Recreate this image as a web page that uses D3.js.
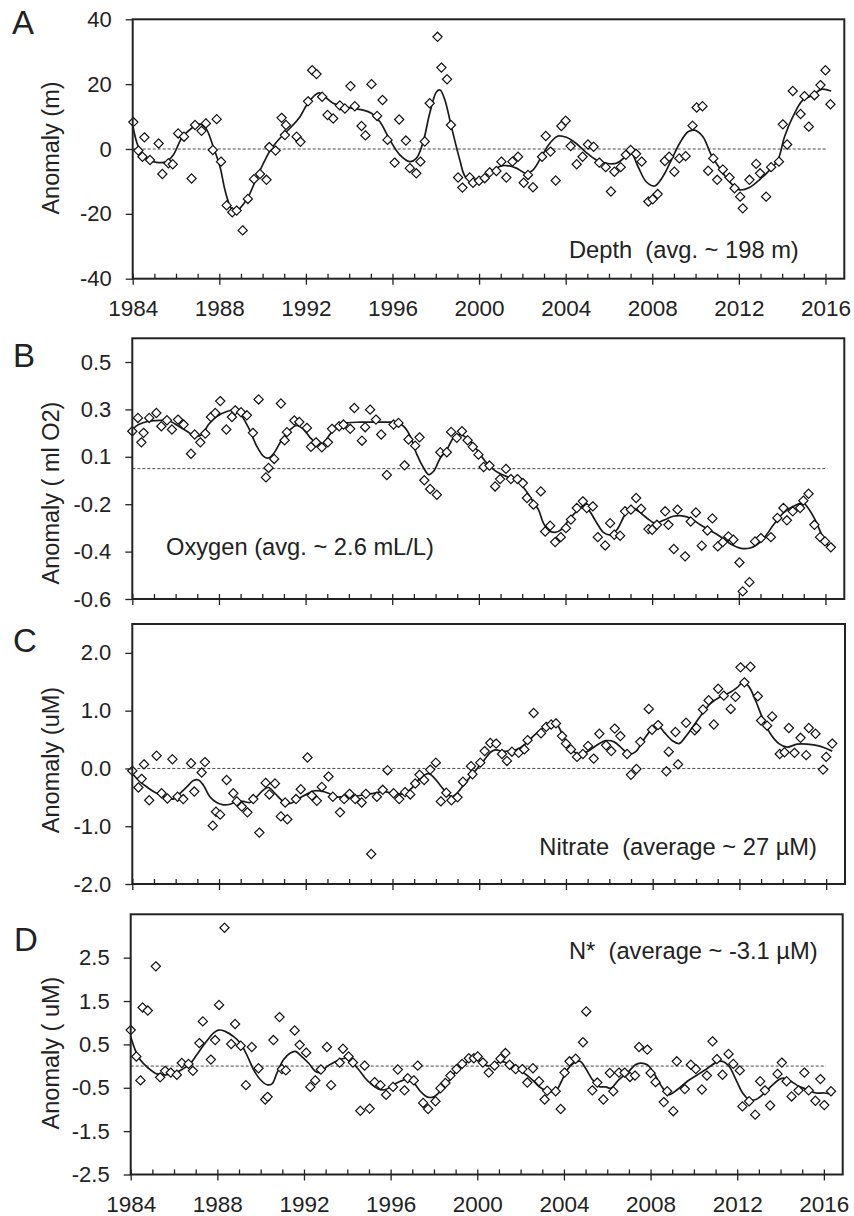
<!DOCTYPE html>
<html><head><meta charset="utf-8">
<script src="https://cdn.jsdelivr.net/npm/d3@7"></script>
<style>
body{margin:0;background:#fff}
svg text{font-family:"Liberation Sans",Arial,sans-serif;fill:#222}
</style>
</head><body>
<svg id="chart" width="854" height="1216"></svg>
<script>
// ---------------- DATA ----------------
const yearMajorTicks = [1984,1988,1992,1996,2000,2004,2008,2012,2016];
const yearMinorTicks = d3.range(1984, 2017); // one tick per year

const depthTicks = [-40,-20,0,20,40];
const depthTickLabels = ["-40","-20","0","20","40"];
const oxygenTicks = [-0.55,-0.35,-0.15,0.05,0.25,0.45];
const oxygenTickLabels = ["-0.6","-0.4","-0.2","0.1","0.3","0.5"];
const nitrateTicks = [-2,-1,0,1,2];
const nitrateTickLabels = ["-2.0","-1.0","0.0","1.0","2.0"];
const nstarTicks = [-2.5,-1.5,-0.5,0.5,1.5,2.5];
const nstarTickLabels = ["-2.5","-1.5","-0.5","0.5","1.5","2.5"];

const panelLetters = ["A","B","C","D"];
const axisTitles = ["Anomaly (m)","Anomaly ( ml O2)","Anomaly (uM)","Anomaly ( uM)"];
const panelNotes = ["Depth  (avg. ~ 198 m)","Oxygen (avg. ~ 2.6 mL/L)","Nitrate  (average ~ 27 \u00b5M)","N*  (average ~ -3.1 \u00b5M)"];

const depthPoints = [[1984.03,8.3],[1984.26,-0.5],[1984.45,-2.4],[1984.54,3.6],[1984.8,-3.4],[1985.2,1.7],[1985.37,-7.7],[1985.65,-4.4],[1985.85,-4.7],[1986.1,4.8],[1986.37,3.8],[1986.72,-9.1],[1986.88,7.4],[1987.18,5.6],[1987.38,7.9],[1987.7,-0.3],[1987.88,9.2],[1988.08,-3.9],[1988.34,-17.4],[1988.6,-19.5],[1988.8,-19.0],[1989.08,-25.1],[1989.32,-15.4],[1989.6,-9.3],[1989.88,-7.7],[1990.18,-9.5],[1990.31,0.6],[1990.6,-0.5],[1990.88,9.6],[1991.03,4.3],[1991.08,7.4],[1991.57,3.8],[1991.75,2.2],[1992.1,14.7],[1992.29,24.3],[1992.49,23.1],[1992.75,16.1],[1993.0,10.5],[1993.26,9.4],[1993.57,13.4],[1993.8,12.5],[1994.06,19.4],[1994.26,13.2],[1994.57,7.1],[1994.75,4.2],[1995.03,20.0],[1995.29,10.2],[1995.54,15.1],[1995.77,2.8],[1996.1,-4.2],[1996.31,9.1],[1996.62,2.6],[1996.8,-5.9],[1997.1,-7.5],[1997.29,-3.9],[1997.49,2.3],[1997.72,14.1],[1998.08,34.6],[1998.26,25.1],[1998.52,21.5],[1998.7,7.4],[1999.03,-8.8],[1999.23,-11.9],[1999.57,-8.8],[1999.72,-10.4],[2000.0,-9.8],[2000.26,-9.0],[2000.49,-7.2],[2000.8,-6.8],[2001.03,-3.9],[2001.26,-8.8],[2001.54,-3.9],[2001.8,-2.4],[2002.06,-10.4],[2002.26,-8.0],[2002.49,-11.8],[2002.91,-2.4],[2003.08,4.0],[2003.3,-0.8],[2003.54,-9.7],[2003.8,7.1],[2004.0,8.7],[2004.23,0.9],[2004.51,-4.7],[2004.78,-2.4],[2005.03,1.4],[2005.29,0.7],[2005.55,-4.2],[2005.85,-5.6],[2006.09,-13.1],[2006.25,-7.0],[2006.54,-5.6],[2006.78,-1.8],[2007.0,-0.3],[2007.25,-1.5],[2007.51,-3.9],[2007.82,-16.2],[2008.02,-15.5],[2008.25,-13.9],[2008.58,-3.7],[2008.78,-2.4],[2009.02,-7.0],[2009.25,-2.9],[2009.54,-2.2],[2009.86,7.2],[2010.05,12.8],[2010.32,13.2],[2010.58,-6.7],[2010.82,-2.9],[2011.0,-9.5],[2011.26,-6.3],[2011.57,-8.8],[2011.8,-12.1],[2012.06,-14.7],[2012.18,-18.3],[2012.49,-9.5],[2012.8,-4.6],[2012.98,-7.5],[2013.26,-14.7],[2013.49,-5.6],[2013.85,-3.9],[2014.03,7.6],[2014.23,1.4],[2014.49,17.9],[2014.85,10.8],[2015.03,16.3],[2015.23,6.9],[2015.49,16.6],[2015.77,19.7],[2016.0,24.3],[2016.23,13.8]];

const depthSmooth = [[1984.0,7.4],[1984.26,0.7],[1984.65,-3.2],[1985.1,-4.1],[1985.57,-3.9],[1985.88,-1.8],[1986.26,3.3],[1986.72,6.4],[1987.1,7.7],[1987.38,6.4],[1987.72,0.7],[1988.03,-5.4],[1988.26,-12.6],[1988.5,-17.7],[1988.69,-19.5],[1988.95,-18.3],[1989.34,-14.7],[1989.72,-9.0],[1990.11,-3.4],[1990.42,0.2],[1990.8,3.3],[1991.26,6.4],[1991.72,9.9],[1992.03,13.5],[1992.42,16.6],[1992.62,17.3],[1992.88,16.1],[1993.26,14.1],[1993.72,13.2],[1994.18,12.5],[1994.65,12.0],[1995.03,11.0],[1995.42,8.4],[1995.88,2.8],[1996.34,-1.8],[1996.8,-3.9],[1997.1,-2.9],[1997.42,2.3],[1997.72,11.0],[1998.03,17.6],[1998.2,18.2],[1998.42,15.1],[1998.72,6.9],[1999.11,-3.4],[1999.34,-8.3],[1999.57,-9.5],[2000.03,-9.0],[2000.49,-7.5],[2000.95,-5.4],[2001.26,-5.1],[2001.72,-5.9],[2002.18,-7.5],[2002.49,-6.5],[2002.88,-2.4],[2003.26,1.7],[2003.65,4.0],[2004.03,3.6],[2004.49,1.7],[2004.95,-1.1],[2005.42,-3.4],[2005.88,-4.4],[2006.34,-4.4],[2006.8,-2.2],[2007.03,-1.3],[2007.34,-5.4],[2007.72,-10.1],[2008.11,-11.4],[2008.49,-8.5],[2008.88,-3.4],[2009.26,1.7],[2009.65,5.3],[2009.95,5.8],[2010.34,3.8],[2010.72,-1.8],[2011.11,-5.9],[2011.57,-10.1],[2012.03,-12.6],[2012.49,-11.9],[2012.95,-9.5],[2013.42,-6.5],[2013.8,-3.4],[2014.11,3.8],[2014.49,9.9],[2014.95,15.1],[2015.42,16.6],[2015.8,18.4],[2016.26,17.9]];

const oxygenPoints = [[1984.0,0.158],[1984.26,0.214],[1984.42,0.111],[1984.52,0.151],[1984.78,0.214],[1985.11,0.235],[1985.34,0.179],[1985.6,0.204],[1985.83,0.165],[1986.11,0.207],[1986.37,0.186],[1986.71,0.063],[1986.88,0.144],[1987.14,0.111],[1987.37,0.148],[1987.63,0.218],[1987.83,0.235],[1988.06,0.285],[1988.34,0.165],[1988.6,0.218],[1988.75,0.246],[1989.02,0.238],[1989.29,0.225],[1989.57,0.151],[1989.83,0.292],[1990.17,-0.037],[1990.29,0.003],[1990.55,0.041],[1990.86,0.275],[1991.03,0.120],[1991.14,0.154],[1991.48,0.203],[1991.71,0.197],[1992.06,0.172],[1992.25,0.092],[1992.48,0.111],[1992.75,0.090],[1993.03,0.111],[1993.22,0.168],[1993.55,0.179],[1993.75,0.186],[1994.06,0.168],[1994.25,0.256],[1994.6,0.118],[1994.75,0.175],[1994.98,0.249],[1995.25,0.207],[1995.49,0.144],[1995.75,-0.027],[1996.06,0.186],[1996.29,0.193],[1996.57,0.014],[1996.75,0.123],[1997.06,0.097],[1997.26,0.132],[1997.48,-0.049],[1997.75,-0.086],[1998.06,-0.110],[1998.22,0.069],[1998.52,0.069],[1998.72,0.155],[1998.98,0.130],[1999.22,0.158],[1999.48,0.120],[1999.72,0.092],[1999.98,0.059],[2000.22,0.007],[2000.49,0.013],[2000.75,-0.075],[2000.98,-0.044],[2001.25,-0.001],[2001.48,-0.044],[2001.78,-0.044],[2002.03,-0.061],[2002.22,-0.124],[2002.52,-0.152],[2002.86,-0.096],[2003.06,-0.265],[2003.29,-0.241],[2003.52,-0.310],[2003.78,-0.289],[2004.02,-0.251],[2004.25,-0.215],[2004.52,-0.166],[2004.8,-0.138],[2004.98,-0.166],[2005.26,-0.159],[2005.49,-0.289],[2005.83,-0.324],[2006.06,-0.230],[2006.25,-0.279],[2006.52,-0.283],[2006.75,-0.180],[2007.02,-0.173],[2007.26,-0.124],[2007.49,-0.169],[2007.83,-0.255],[2008.0,-0.258],[2008.22,-0.237],[2008.6,-0.180],[2008.75,-0.237],[2009.0,-0.339],[2009.17,-0.173],[2009.52,-0.370],[2009.78,-0.223],[2010.02,-0.185],[2010.29,-0.325],[2010.55,-0.261],[2010.78,-0.210],[2011.03,-0.328],[2011.26,-0.310],[2011.52,-0.286],[2011.75,-0.300],[2012.03,-0.396],[2012.18,-0.518],[2012.49,-0.479],[2012.75,-0.307],[2013.02,-0.293],[2013.48,-0.289],[2013.78,-0.208],[2014.06,-0.166],[2014.22,-0.218],[2014.49,-0.180],[2014.83,-0.166],[2014.98,-0.135],[2015.22,-0.106],[2015.49,-0.237],[2015.75,-0.289],[2015.98,-0.307],[2016.25,-0.332]];

const oxygenSmooth = [[1984.0,0.165],[1984.29,0.186],[1984.75,0.2],[1985.14,0.203],[1985.52,0.204],[1985.75,0.2],[1986.14,0.179],[1986.52,0.158],[1986.91,0.137],[1987.22,0.144],[1987.52,0.186],[1987.91,0.221],[1988.37,0.241],[1988.68,0.246],[1989.0,0.228],[1989.37,0.172],[1989.75,0.094],[1990.06,0.052],[1990.29,0.045],[1990.52,0.063],[1990.91,0.123],[1991.29,0.165],[1991.6,0.182],[1991.91,0.165],[1992.22,0.130],[1992.52,0.106],[1992.75,0.101],[1993.06,0.137],[1993.45,0.179],[1993.91,0.193],[1994.52,0.196],[1995.14,0.196],[1995.75,0.196],[1996.22,0.196],[1996.52,0.179],[1996.83,0.137],[1997.14,0.059],[1997.45,0.003],[1997.68,-0.025],[1997.91,-0.011],[1998.22,0.045],[1998.52,0.08],[1998.83,0.13],[1999.14,0.144],[1999.52,0.123],[1999.91,0.08],[2000.29,0.031],[2000.68,-0.004],[2001.06,-0.025],[2001.45,-0.039],[2001.83,-0.058],[2002.14,-0.089],[2002.45,-0.131],[2002.75,-0.173],[2002.98,-0.23],[2003.22,-0.261],[2003.52,-0.269],[2003.83,-0.255],[2004.22,-0.208],[2004.6,-0.173],[2004.83,-0.156],[2005.06,-0.173],[2005.45,-0.23],[2005.75,-0.269],[2006.06,-0.279],[2006.37,-0.258],[2006.75,-0.194],[2007.06,-0.166],[2007.37,-0.18],[2007.75,-0.208],[2008.14,-0.23],[2008.52,-0.218],[2008.98,-0.201],[2009.37,-0.199],[2009.75,-0.208],[2010.22,-0.237],[2010.68,-0.261],[2011.14,-0.286],[2011.6,-0.317],[2012.06,-0.335],[2012.52,-0.335],[2012.83,-0.321],[2013.22,-0.286],[2013.6,-0.237],[2014.06,-0.187],[2014.52,-0.159],[2014.98,-0.145],[2015.14,-0.159],[2015.52,-0.215],[2015.83,-0.279],[2016.14,-0.328]];

const nitratePoints = [[1984.0,-0.04],[1984.28,-0.33],[1984.43,-0.18],[1984.54,0.07],[1984.78,-0.55],[1985.12,0.22],[1985.35,-0.43],[1985.62,-0.52],[1985.85,0.16],[1986.09,-0.49],[1986.35,-0.53],[1986.71,0.09],[1986.86,-0.40],[1987.2,-0.07],[1987.35,0.11],[1987.71,-0.99],[1987.86,-0.75],[1988.05,-0.80],[1988.35,-0.20],[1988.66,-0.43],[1988.82,-0.57],[1989.05,-0.66],[1989.31,-0.76],[1989.58,-0.53],[1989.86,-1.11],[1990.15,-0.25],[1990.32,-0.45],[1990.58,-0.26],[1990.85,-0.83],[1991.05,-0.59],[1991.15,-0.88],[1991.55,-0.53],[1991.77,-0.36],[1992.08,0.19],[1992.28,-0.47],[1992.51,-0.56],[1992.74,-0.32],[1993.05,-0.14],[1993.25,-0.49],[1993.58,-0.76],[1993.77,-0.53],[1994.02,-0.44],[1994.28,-0.53],[1994.58,-0.59],[1994.77,-0.44],[1995.02,-1.48],[1995.28,-0.49],[1995.55,-0.37],[1995.77,-0.03],[1996.05,-0.43],[1996.31,-0.53],[1996.58,-0.41],[1996.82,-0.45],[1997.05,-0.26],[1997.25,-0.11],[1997.46,-0.20],[1997.74,-0.02],[1998.0,0.10],[1998.23,-0.57],[1998.48,-0.42],[1998.72,-0.55],[1999.0,-0.50],[1999.25,-0.23],[1999.62,0.04],[1999.69,-0.10],[2000.05,0.10],[2000.25,0.30],[2000.51,0.44],[2000.78,0.43],[2001.05,0.25],[2001.28,0.13],[2001.51,0.29],[2001.82,0.27],[2002.08,0.33],[2002.23,0.49],[2002.51,0.96],[2002.85,0.61],[2003.09,0.72],[2003.32,0.76],[2003.54,0.78],[2003.82,0.56],[2004.0,0.43],[2004.23,0.33],[2004.51,0.20],[2004.78,0.25],[2005.02,0.39],[2005.28,0.17],[2005.54,0.60],[2005.85,0.40],[2006.09,0.30],[2006.25,0.69],[2006.51,0.56],[2006.82,0.25],[2007.0,-0.11],[2007.25,-0.01],[2007.43,0.46],[2007.82,1.03],[2007.97,0.67],[2008.25,0.75],[2008.63,-0.05],[2008.74,0.29],[2009.05,0.63],[2009.17,0.07],[2009.54,0.79],[2009.94,0.66],[2010.02,0.70],[2010.32,1.02],[2010.58,1.18],[2010.82,0.76],[2011.02,1.38],[2011.28,1.26],[2011.6,1.03],[2011.82,1.24],[2012.05,1.75],[2012.23,1.49],[2012.51,1.76],[2012.85,1.25],[2013.0,0.83],[2013.28,0.74],[2013.51,0.90],[2013.86,0.25],[2014.08,0.28],[2014.28,0.70],[2014.54,0.27],[2014.82,0.53],[2015.08,0.23],[2015.2,0.70],[2015.51,0.60],[2015.86,-0.02],[2016.0,0.20],[2016.28,0.43]];

const nitrateSmooth = [[1984.05,-0.11],[1984.35,-0.23],[1984.74,-0.34],[1985.12,-0.43],[1985.51,-0.49],[1985.89,-0.53],[1986.2,-0.43],[1986.51,-0.32],[1986.82,-0.21],[1987.05,-0.20],[1987.28,-0.29],[1987.58,-0.49],[1987.89,-0.59],[1988.2,-0.63],[1988.51,-0.62],[1988.82,-0.57],[1989.12,-0.57],[1989.43,-0.59],[1989.74,-0.49],[1990.05,-0.37],[1990.28,-0.33],[1990.58,-0.43],[1990.89,-0.55],[1991.2,-0.61],[1991.51,-0.57],[1991.82,-0.49],[1992.12,-0.43],[1992.35,-0.39],[1992.66,-0.39],[1993.05,-0.43],[1993.35,-0.49],[1993.74,-0.49],[1994.2,-0.48],[1994.66,-0.46],[1995.12,-0.43],[1995.58,-0.40],[1996.05,-0.43],[1996.51,-0.44],[1996.89,-0.34],[1997.28,-0.17],[1997.66,-0.09],[1997.89,-0.15],[1998.2,-0.29],[1998.51,-0.43],[1998.74,-0.49],[1998.97,-0.43],[1999.28,-0.29],[1999.6,-0.14],[1999.91,0.0],[2000.22,0.14],[2000.52,0.28],[2000.75,0.32],[2001.06,0.30],[2001.37,0.30],[2001.75,0.33],[2002.14,0.43],[2002.52,0.57],[2002.91,0.69],[2003.29,0.80],[2003.52,0.79],[2003.83,0.60],[2004.22,0.34],[2004.6,0.25],[2004.98,0.29],[2005.37,0.39],[2005.83,0.48],[2006.22,0.46],[2006.6,0.34],[2006.91,0.25],[2007.22,0.29],[2007.52,0.46],[2007.91,0.66],[2008.22,0.75],[2008.52,0.63],[2008.91,0.48],[2009.22,0.43],[2009.52,0.55],[2009.91,0.75],[2010.29,0.95],[2010.66,1.12],[2011.12,1.24],[2011.58,1.32],[2011.89,1.40],[2012.17,1.49],[2012.43,1.42],[2012.74,1.18],[2013.05,0.89],[2013.43,0.60],[2013.82,0.43],[2014.2,0.37],[2014.66,0.42],[2015.12,0.42],[2015.66,0.39],[2016.28,0.30]];

const nstarPoints = [[1984.0,0.83],[1984.26,0.22],[1984.45,-0.33],[1984.55,1.35],[1984.79,1.28],[1985.16,2.30],[1985.36,-0.26],[1985.59,-0.11],[1985.85,-0.15],[1986.13,-0.20],[1986.36,0.07],[1986.67,0.05],[1986.87,-0.11],[1987.17,0.53],[1987.33,1.03],[1987.7,0.15],[1987.9,0.60],[1988.08,1.41],[1988.33,3.19],[1988.64,0.51],[1988.82,0.97],[1989.08,0.47],[1989.32,-0.44],[1989.59,0.44],[1989.9,-0.05],[1990.21,-0.77],[1990.32,-0.71],[1990.59,0.60],[1990.87,1.13],[1990.98,-0.07],[1991.16,-0.10],[1991.57,0.82],[1991.8,0.49],[1992.1,0.31],[1992.29,-0.48],[1992.52,-0.33],[1992.78,-0.08],[1993.06,0.44],[1993.25,-0.44],[1993.65,0.08],[1993.8,0.40],[1994.06,0.22],[1994.26,0.08],[1994.6,-1.03],[1994.8,0.01],[1995.03,-0.98],[1995.26,-0.37],[1995.53,-0.44],[1995.79,-0.66],[1996.11,-0.48],[1996.33,-0.08],[1996.64,-0.56],[1996.79,-0.28],[1997.07,-0.33],[1997.25,0.01],[1997.5,-0.85],[1997.73,-0.99],[1998.07,-0.81],[1998.3,-0.51],[1998.53,-0.39],[1998.76,-0.22],[1999.04,-0.07],[1999.3,0.05],[1999.61,0.18],[1999.84,0.18],[2000.02,0.22],[2000.26,0.08],[2000.53,-0.15],[2000.8,0.01],[2001.07,0.17],[2001.3,0.30],[2001.49,0.03],[2001.77,-0.07],[2002.08,-0.07],[2002.31,-0.38],[2002.57,-0.05],[2002.85,-0.35],[2003.11,-0.77],[2003.23,-0.57],[2003.62,-0.58],[2003.85,-0.99],[2004.03,-0.15],[2004.26,0.11],[2004.54,0.17],[2004.88,0.55],[2005.03,1.26],[2005.31,-0.56],[2005.54,-0.38],[2005.82,-0.77],[2006.12,-0.16],[2006.28,-0.58],[2006.54,-0.15],[2006.8,-0.15],[2007.05,-0.25],[2007.28,-0.22],[2007.47,0.44],[2007.85,0.38],[2008.0,-0.16],[2008.23,-0.37],[2008.61,-0.83],[2008.77,-0.58],[2009.05,-1.04],[2009.21,0.11],[2009.58,-0.53],[2009.86,0.03],[2010.09,-0.07],[2010.37,-0.54],[2010.6,-0.22],[2010.86,0.57],[2011.06,0.16],[2011.32,-0.20],[2011.6,0.28],[2011.82,0.05],[2012.12,-0.10],[2012.24,-0.93],[2012.55,-0.81],[2012.83,-1.12],[2013.06,-0.35],[2013.28,-0.56],[2013.52,-0.91],[2013.86,-0.18],[2014.06,0.08],[2014.28,-0.35],[2014.51,-0.70],[2014.83,-0.56],[2015.1,-0.15],[2015.3,-0.56],[2015.61,-0.80],[2015.84,-0.30],[2016.02,-0.90],[2016.33,-0.58]];

const nstarSmooth = [[1984.0,0.68],[1984.2,0.38],[1984.43,0.15],[1984.82,-0.05],[1985.2,-0.18],[1985.59,-0.2],[1985.97,-0.18],[1986.36,-0.08],[1986.74,0.05],[1987.05,0.26],[1987.44,0.53],[1987.82,0.76],[1988.05,0.83],[1988.36,0.80],[1988.75,0.68],[1989.05,0.54],[1989.36,0.26],[1989.67,-0.08],[1989.98,-0.31],[1990.29,-0.43],[1990.52,-0.41],[1990.75,-0.16],[1991.06,0.15],[1991.37,0.30],[1991.6,0.34],[1991.9,0.22],[1992.21,0.07],[1992.52,-0.12],[1992.75,-0.15],[1993.06,-0.01],[1993.37,0.08],[1993.68,0.15],[1993.91,0.18],[1994.22,0.08],[1994.52,-0.08],[1994.83,-0.28],[1995.14,-0.43],[1995.45,-0.53],[1995.76,-0.54],[1996.14,-0.43],[1996.45,-0.35],[1996.76,-0.31],[1997.07,-0.39],[1997.37,-0.58],[1997.68,-0.71],[1997.99,-0.71],[1998.3,-0.58],[1998.68,-0.35],[1999.07,-0.08],[1999.46,0.08],[1999.84,0.15],[2000.15,0.11],[2000.45,0.01],[2000.76,0.03],[2001.07,0.11],[2001.38,0.07],[2001.76,-0.05],[2002.15,-0.16],[2002.53,-0.31],[2002.85,-0.47],[2003.23,-0.58],[2003.62,-0.58],[2003.85,-0.39],[2004.16,-0.08],[2004.46,0.07],[2004.74,0.11],[2005.0,-0.05],[2005.31,-0.31],[2005.62,-0.47],[2005.93,-0.48],[2006.16,-0.51],[2006.54,-0.31],[2006.92,-0.16],[2007.3,0.03],[2007.53,0.07],[2007.85,0.03],[2008.15,-0.16],[2008.46,-0.43],[2008.85,-0.66],[2009.24,-0.54],[2009.7,-0.35],[2010.17,-0.2],[2010.63,-0.05],[2011.01,0.08],[2011.32,0.11],[2011.63,-0.01],[2011.94,-0.31],[2012.25,-0.62],[2012.55,-0.77],[2012.86,-0.77],[2013.17,-0.66],[2013.56,-0.47],[2013.94,-0.31],[2014.17,-0.28],[2014.48,-0.35],[2014.86,-0.47],[2015.25,-0.54],[2015.63,-0.62],[2016.02,-0.62],[2016.41,-0.66]];

// ---------------- PANEL TABLE (built from the arrays) ----------------
const panelData = [
  {pts:depthPoints,   line:depthSmooth,   ticks:depthTicks,   labels:depthTickLabels,   domain:[-40,40]},
  {pts:oxygenPoints,  line:oxygenSmooth,  ticks:oxygenTicks,  labels:oxygenTickLabels,  domain:[-0.55,0.55]},
  {pts:nitratePoints, line:nitrateSmooth, ticks:nitrateTicks, labels:nitrateTickLabels, domain:[-2,2.5]},
  {pts:nstarPoints,   line:nstarSmooth,   ticks:nstarTicks,   labels:nstarTickLabels,   domain:[-2.5,3.5]}
];

// ---------------- LAYOUT ----------------
const layout = [
  {l:132.7, r:844.3, t:19.3,  b:278.7,  letterX:12, letterY:34,    titleY:148,  noteX:569,   noteY:257.5, xLabels:true},
  {l:132.3, r:844.3, t:338.3, b:599,    letterX:13, letterY:366.5, titleY:493,  noteX:166,   noteY:555,   xLabels:false},
  {l:132.3, r:845,   t:624,   b:884,    letterX:13, letterY:651.5, titleY:760,  noteX:539.3, noteY:855,   xLabels:false},
  {l:130.7, r:842.7, t:914.3, b:1174.5, letterX:14, letterY:951,   titleY:1053, noteX:569,   noteY:959.3, xLabels:true}
];
const X_END = 2016.87;
const ink = "#222";

const svg = d3.select("#chart");

panelData.forEach((p, i) => {
  const L = layout[i];
  const x = d3.scaleLinear().domain([1984, X_END]).range([L.l, L.r]);
  const y = d3.scaleLinear().domain(p.domain).range([L.b, L.t]);
  const g = svg.append("g");

  // zero line (dashed)
  g.append("line")
    .attr("x1", x(1984)).attr("x2", x(2016.1))
    .attr("y1", y(0)).attr("y2", y(0))
    .attr("stroke", "#333").attr("stroke-width", 0.9)
    .attr("stroke-dasharray", "3,2");

  // smooth line
  g.append("path")
    .datum(p.line)
    .attr("fill", "none").attr("stroke", "#1a1a1a").attr("stroke-width", 1.7)
    .attr("d", d3.line().x(d => x(d[0])).y(d => y(d[1])).curve(d3.curveCatmullRom.alpha(0.5)));

  // diamonds
  const sym = d3.symbol().type(d3.symbolDiamond2).size(54);
  g.selectAll("path.pt").data(p.pts).join("path")
    .attr("class", "pt")
    .attr("d", sym)
    .attr("transform", d => `translate(${x(d[0])},${y(d[1])})`)
    .attr("fill", "#fff").attr("stroke", "#111").attr("stroke-width", 1.2);

  // frame
  g.append("rect")
    .attr("x", L.l).attr("y", L.t)
    .attr("width", L.r - L.l).attr("height", L.b - L.t)
    .attr("fill", "none").attr("stroke", ink).attr("stroke-width", 2);

  // y axis
  const ya = g.append("g").attr("transform", `translate(${L.l},0)`)
    .call(d3.axisLeft(y).tickValues(p.ticks).tickFormat((d, k) => p.labels[k])
      .tickSize(7).tickPadding(14));
  ya.select(".domain").remove();
  ya.selectAll("line").attr("stroke", ink).attr("stroke-width", 1.3);
  ya.selectAll("text").attr("font-size", 22).attr("font-family", '"Liberation Sans",Arial,sans-serif').attr("fill", ink);

  // minor x ticks (inward)
  const xm = g.append("g").attr("transform", `translate(0,${L.b})`)
    .call(d3.axisTop(x).tickValues(yearMinorTicks).tickSize(5).tickFormat(""));
  xm.select(".domain").remove();
  xm.selectAll("line").attr("stroke", ink).attr("stroke-width", 1.3);

  // major x ticks (outward) + labels
  const xa = g.append("g").attr("transform", `translate(0,${L.b})`)
    .call(d3.axisBottom(x).tickValues(yearMajorTicks).tickSize(6).tickPadding(15.4)
      .tickFormat(L.xLabels ? d3.format("d") : () => ""));
  xa.select(".domain").remove();
  xa.selectAll("line").attr("stroke", ink).attr("stroke-width", 1.3);
  xa.selectAll("text").attr("font-size", 22.5).attr("font-family", '"Liberation Sans",Arial,sans-serif').attr("fill", ink);

  // panel letter
  g.append("text").attr("x", L.letterX).attr("y", L.letterY)
    .attr("font-size", 33).text(panelLetters[i]);

  // y title
  g.append("text")
    .attr("transform", `translate(59,${L.titleY}) rotate(-90)`)
    .attr("text-anchor", "middle").attr("font-size", 23.5)
    .text(axisTitles[i]);

  // note
  g.append("text").attr("x", L.noteX).attr("y", L.noteY)
    .attr("font-size", 23.7).style("white-space", "pre")
    .text(panelNotes[i]);
});
</script>
</body></html>
